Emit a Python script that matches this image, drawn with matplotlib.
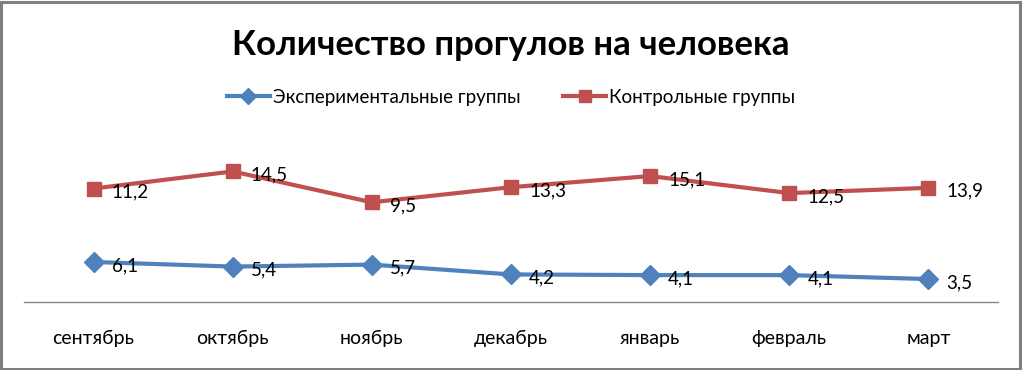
import numpy as np
import matplotlib
matplotlib.use('Agg')
import matplotlib.pyplot as plt
from matplotlib.patches import Rectangle

plt.rcParams['font.family'] = ['Lato', 'DejaVu Sans']

months = ['сентябрь', 'октябрь', 'ноябрь', 'декабрь', 'январь', 'февраль', 'март']
exp_vals = [6.1, 5.4, 5.7, 4.2, 4.1, 4.1, 3.5]
ctrl_vals = [11.2, 14.5, 9.5, 13.3, 15.1, 12.5, 13.9]
exp_name = 'Экспериментальные группы'
ctrl_name = 'Контрольные группы'
title = 'Количество прогулов на человека'

blue = '#4F81BD'
red = '#C0504D'

W, H = 1022, 370
fig = plt.figure(figsize=(W / 100, H / 100), dpi=100, facecolor='white')

# chart frame with grey border
fig.patches.append(Rectangle((1 / W, 1 / H), (W - 3) / W, (H - 3) / H, transform=fig.transFigure,
                             facecolor='white', edgecolor='#7f7f7f', linewidth=2.2, zorder=-10))

ax = fig.add_axes([24 / W, 68 / H, 974 / W, 164 / H])
ax.set_facecolor('none')

x = np.arange(len(months))
# stacked line chart: second series sits on top of the first
stacked = np.array(exp_vals) + np.array(ctrl_vals)

ax.plot(x, exp_vals, color=blue, lw=3, marker='D', ms=10, mec=blue, mfc=blue, label=exp_name,
        solid_joinstyle='round', clip_on=False)
ax.plot(x, stacked, color=red, lw=3, marker='s', ms=10.5, mec=red, mfc=red, label=ctrl_name,
        solid_joinstyle='round', clip_on=False)

for i in range(len(months)):
    ax.annotate(str(exp_vals[i]).replace('.', ','), (x[i], exp_vals[i]), xytext=(13, -2.5),
                textcoords='offset points', ha='left', va='center', fontsize=13.5, color='black')
    ax.annotate(str(ctrl_vals[i]).replace('.', ','), (x[i], stacked[i]), xytext=(13, -2.5),
                textcoords='offset points', ha='left', va='center', fontsize=13.5, color='black')

ax.set_xlim(-0.5, len(months) - 0.5)
ax.set_ylim(0, 25)
ax.set_xticks(x)
ax.set_xticklabels(months, fontsize=14)
ax.tick_params(axis='x', length=0, pad=20)
ax.set_yticks([])
for s in ['top', 'left', 'right']:
    ax.spines[s].set_visible(False)
ax.spines['bottom'].set_color('#868686')
ax.spines['bottom'].set_linewidth(1)

fig.text(0.5, 1 - 45 / H, title, ha='center', va='center', fontsize=25, fontweight='bold')

fig.legend(loc='center', bbox_to_anchor=(0.5, 1 - 97 / H), ncol=2, frameon=False,
           fontsize=13.5, handlelength=2.3, columnspacing=2.3, handletextpad=0.15,
           markerscale=0.8)

fig.savefig('out.png', dpi=100, facecolor='white')
